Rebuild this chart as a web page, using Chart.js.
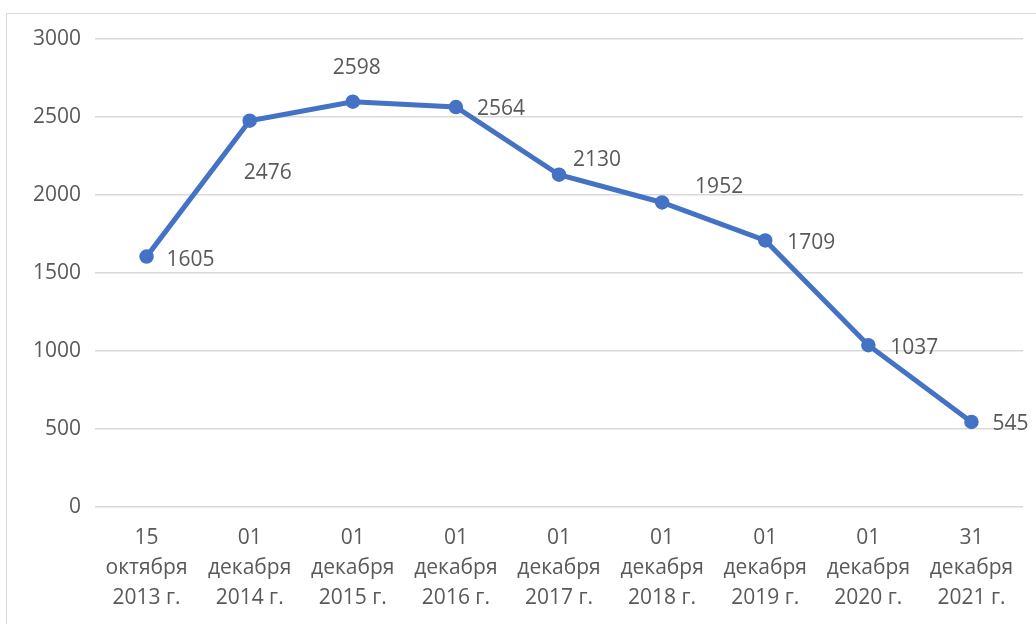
<!DOCTYPE html>
<html>
<head>
<meta charset="utf-8">
<script src="https://cdn.jsdelivr.net/npm/chart.js@4.4.0/dist/chart.umd.min.js"></script>
<style>
html,body{margin:0;padding:0;background:#fff;}
#wrap{position:relative;width:1036px;height:624px;}
</style>
</head>
<body>
<div id="wrap"><canvas id="c" width="1036" height="624"></canvas></div>
<script>
const categories = [
  ['15','октября','2013 г.'],
  ['01','декабря','2014 г.'],
  ['01','декабря','2015 г.'],
  ['01','декабря','2016 г.'],
  ['01','декабря','2017 г.'],
  ['01','декабря','2018 г.'],
  ['01','декабря','2019 г.'],
  ['01','декабря','2020 г.'],
  ['31','декабря','2021 г.']
];
const values = [1605, 2476, 2598, 2564, 2130, 1952, 1709, 1037, 545];
const yTicks = [0, 500, 1000, 1500, 2000, 2500, 3000];

// label placement relative to each point: [dx to label left edge, dy to label middle]
const labelOffsets = [[20,3],[-6,52],[-20,-34],[21,2],[14,-15],[33,-15],[22,3],[22,3],[21,2]];

const FONT = '"Open Sans", "Segoe UI", sans-serif';
const TEXT = '#595959';

const frame = {
  id: 'frame',
  beforeDraw(chart) {
    const ctx = chart.ctx;
    ctx.save();
    ctx.fillStyle = '#fff';
    ctx.fillRect(0, 0, chart.width, chart.height);
    ctx.strokeStyle = '#d9d9d9';
    ctx.lineWidth = 1;
    ctx.strokeRect(6.5, 13.5, 1100, 700);
    ctx.restore();
  }
};

const dataLabels = {
  id: 'dataLabels',
  afterDatasetsDraw(chart) {
    const ctx = chart.ctx;
    const meta = chart.getDatasetMeta(0);
    ctx.save();
    ctx.font = '21px ' + FONT;
    ctx.fillStyle = TEXT;
    ctx.textAlign = 'left';
    ctx.textBaseline = 'middle';
    meta.data.forEach((pt, i) => {
      const off = labelOffsets[i];
      ctx.fillText(String(values[i]), pt.x + off[0], pt.y + off[1]);
    });
    ctx.restore();
  }
};

new Chart(document.getElementById('c'), {
  type: 'line',
  data: {
    labels: categories,
    datasets: [{
      data: values,
      borderColor: '#4472C4',
      backgroundColor: '#4472C4',
      borderWidth: 5,
      pointRadius: 6,
      pointHoverRadius: 6,
      pointBackgroundColor: '#4472C4',
      pointBorderColor: '#4472C4',
      pointBorderWidth: 2.5,
      tension: 0,
      fill: false
    }]
  },
  options: {
    responsive: false,
    animation: false,
    events: [],
    layout: { padding: { top: 39, right: 13, left: 0, bottom: 0 } },
    plugins: { legend: { display: false }, tooltip: { enabled: false } },
    scales: {
      x: {
        offset: true,
        grid: { display: false, drawTicks: false },
        border: { display: false },
        ticks: {
          color: TEXT,
          font: { family: FONT, size: 21, lineHeight: 30 / 21 },
          padding: 16,
          maxRotation: 0,
          autoSkip: false
        },
        afterFit(s) { s.height = 117; }
      },
      y: {
        min: 0,
        max: 3000,
        afterBuildTicks(s) { s.ticks = yTicks.map(v => ({ value: v })); },
        grid: { color: '#d9d9d9', lineWidth: 1.5, drawTicks: false },
        border: { display: false },
        ticks: {
          color: TEXT,
          font: { family: FONT, size: 21 },
          padding: 14,
          callback: (v) => String(v)
        },
        afterFit(s) { s.width = 95; }
      }
    }
  },
  plugins: [frame, dataLabels]
});
</script>
</body>
</html>
